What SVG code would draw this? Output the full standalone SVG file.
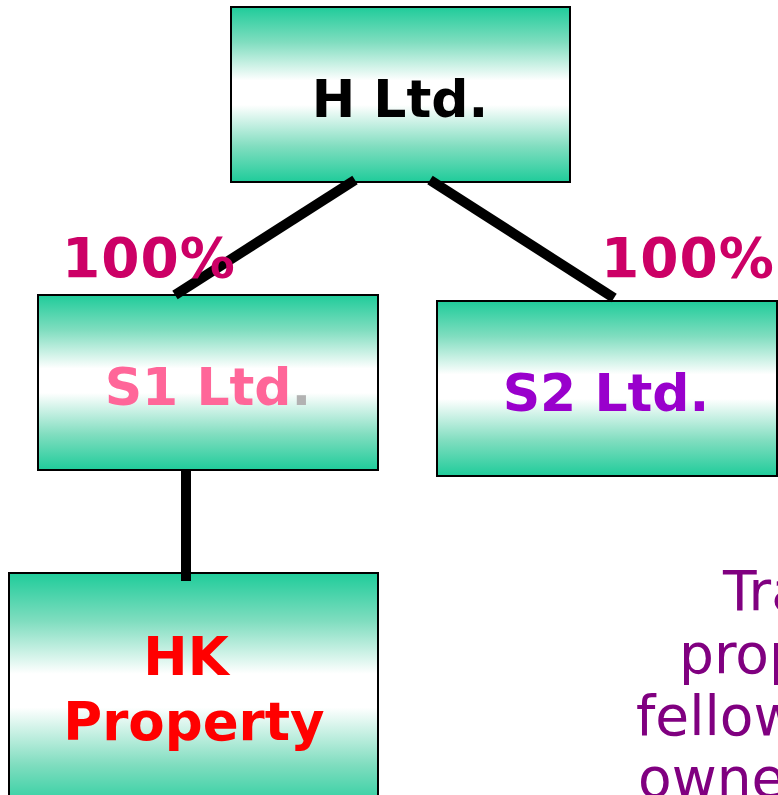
<svg xmlns="http://www.w3.org/2000/svg" width="778" height="795" viewBox="0 0 778 795">
<defs>
<linearGradient id="g" x1="0" y1="0" x2="0" y2="1">
<stop offset="0" stop-color="#1FCC9A"/>
<stop offset="0.2" stop-color="#7FDDBF"/>
<stop offset="0.42" stop-color="#FFFFFF"/>
<stop offset="0.56" stop-color="#FFFFFF"/>
<stop offset="0.8" stop-color="#7FDDBF"/>
<stop offset="1" stop-color="#1FCC9A"/>
</linearGradient>
<style>
.box{fill:url(#g);stroke:#000;stroke-width:2}
.t{font-family:"DejaVu Sans","Verdana",sans-serif;font-weight:bold;text-anchor:middle}
.c{stroke:#000;stroke-width:10;fill:none}
.pct{font-family:"DejaVu Sans","Verdana",sans-serif;font-weight:bold;font-size:55px;fill:#CC0066;letter-spacing:1px}
.note{font-family:"DejaVu Sans","Verdana",sans-serif;font-size:55px;fill:#800080}
</style>
</defs>
<rect width="778" height="795" fill="#fff"/>
<g id="H">
<rect class="box" x="231" y="7" width="339" height="175"/>
<text class="t" x="400" y="117" font-size="52" fill="#000">H Ltd.</text>
</g>
<g id="S1">
<rect class="box" x="38" y="295" width="340" height="175"/>
<text class="t" x="208" y="405" font-size="52"><tspan fill="#FF6699">S1 Ltd</tspan><tspan fill="#B2B2B2">.</tspan></text>
</g>
<g id="S2">
<rect class="box" x="437" y="301" width="340" height="175"/>
<text class="t" x="606" y="411" font-size="52" fill="#9900CC">S2 Ltd.</text>
</g>
<g id="HK">
<rect class="box" x="9" y="573" width="369" height="240"/>
<text class="t" x="186" y="675" font-size="53" fill="#FF0000">HK</text>
<text class="t" x="194" y="740" font-size="53" fill="#FF0000">Property</text>
</g>
<g id="connectors">
<line class="c" x1="355" y1="180" x2="175" y2="295"/>
<line class="c" x1="430" y1="180" x2="614" y2="298"/>
<line class="c" x1="186" y1="470" x2="186" y2="581"/>
</g>
<g id="labels">
<text class="pct" x="62" y="277">100%</text>
<text class="pct" x="601" y="277">100%</text>
</g>
<g id="note">
<text class="note" x="723" y="610">Tra</text>
<text class="note" x="679" y="673">prop</text>
<text class="note" x="636" y="735">fellow</text>
<text class="note" x="638" y="797">owne</text>
</g>
</svg>
